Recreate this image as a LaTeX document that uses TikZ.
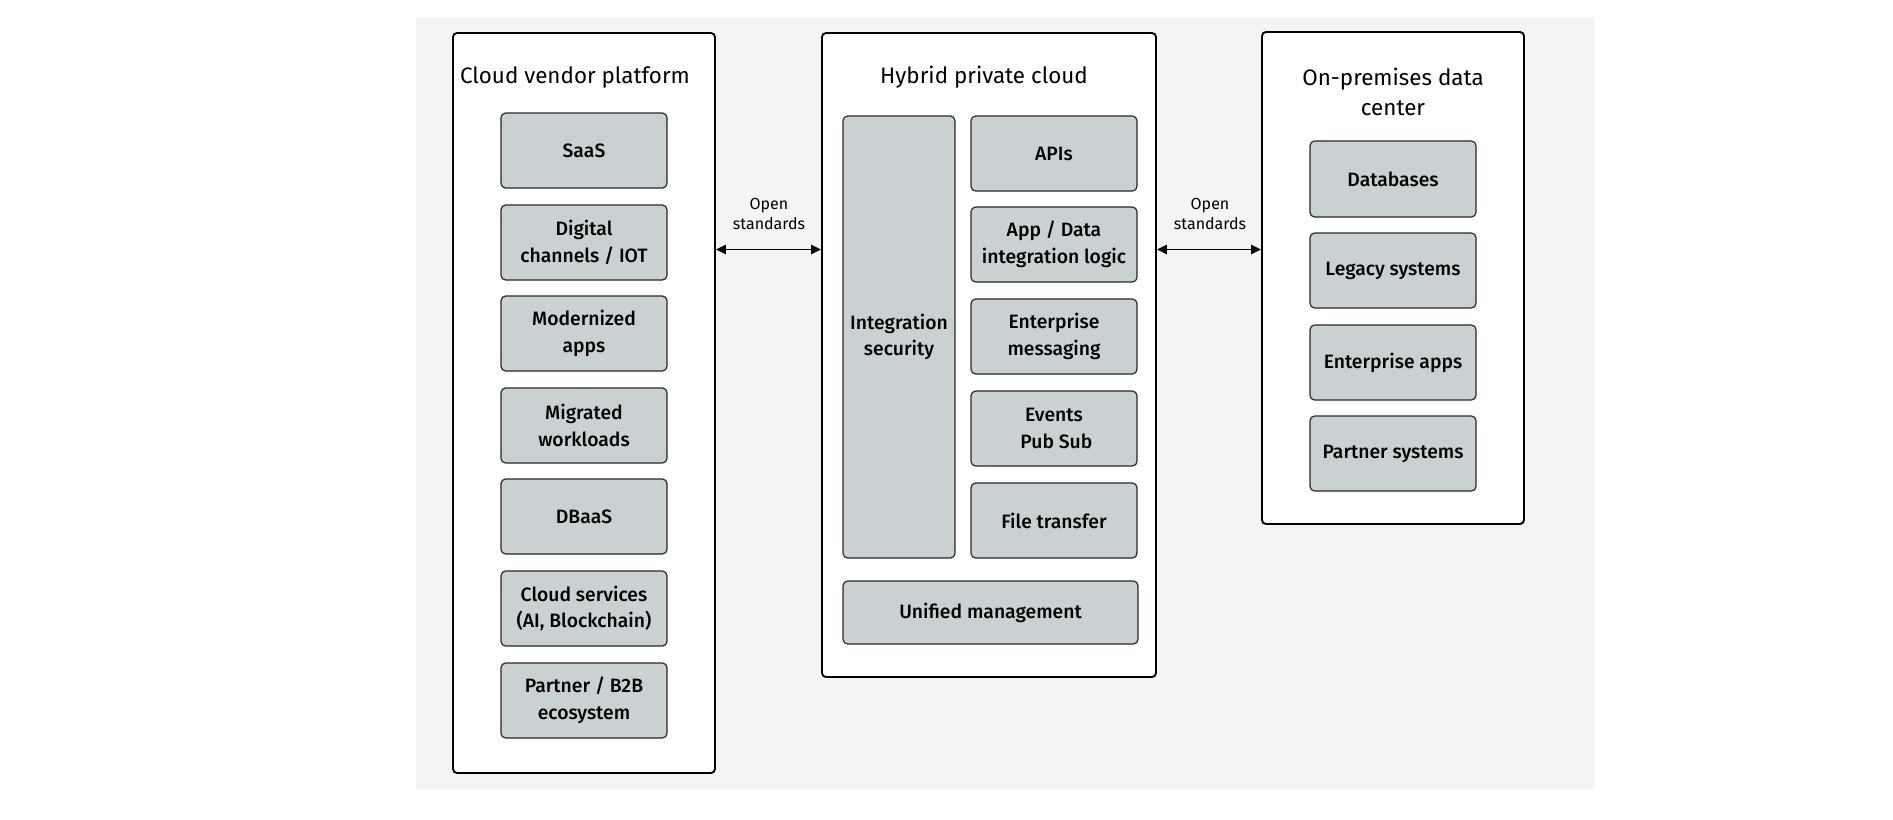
\documentclass[tikz,border=0pt]{standalone}
\usepackage{fontspec}
\setmainfont{Fira Sans}
\newfontfamily\medfont{Fira Sans Medium}
\usetikzlibrary{arrows.meta}
\definecolor{bgc}{RGB}{244,244,244}
\definecolor{boxc}{RGB}{201,209,210}
\definecolor{edgec}{RGB}{40,40,40}
\tikzset{
  outerbox/.style={draw=black, line width=1.4pt, fill=white, rounded corners=3pt, inner sep=0pt},
  ibox/.style={draw=edgec, line width=0.9pt, fill=boxc, rounded corners=3.5pt, inner sep=0pt,
    align=center, font=\medfont\fontsize{14.5}{20}\selectfont},
  ttl/.style={align=center, font=\fontsize{16.8}{22.5}\selectfont},
  lbl/.style={align=center, font=\fontsize{12}{15}\selectfont},
  conn/.style={line width=1.4pt, {Triangle[length=7.5pt,width=7pt]}-{Triangle[length=7.5pt,width=7pt]}}
}
\newcommand{\rbox}[7]{% style,name,x1,y1,x2,y2,text
  \node[#1, minimum width={(#5-#3)*0.75pt}, minimum height={(#6-#4)*0.75pt}] (#2) at ({(#3+#5)/2},{(#4+#6)/2}) {#7};}
\begin{document}
\begin{tikzpicture}[x=0.75pt,y=-0.75pt]
\useasboundingbox (0,0) rectangle (1893,819);
\fill[bgc] (416,17) rectangle (1594,789);
% outer boxes
\rbox{outerbox}{lbox}{453}{33}{715}{773}{}
\rbox{outerbox}{mbox}{822}{33}{1156}{677}{}
\rbox{outerbox}{rbox}{1262}{32}{1524}{524}{}
% titles
\node[ttl] (ltitle) at (575,77) {Cloud vendor platform};
\node[ttl] (mtitle) at (984,77) {Hybrid private cloud};
\node[ttl] (rtitle) at (1393,92) {On-premises data\\center};
% left column
\rbox{ibox}{saas}{501}{113}{667}{188}{SaaS}
\rbox{ibox}{digital}{501}{205}{667}{280}{Digital\\channels / IOT}
\rbox{ibox}{modern}{501}{296}{667}{371}{Modernized\\apps}
\rbox{ibox}{migrated}{501}{388}{667}{463}{Migrated\\workloads}
\rbox{ibox}{dbaas}{501}{479}{667}{554}{DBaaS}
\rbox{ibox}{cloudsvc}{501}{571}{667}{646}{Cloud services\\(AI, Blockchain)}
\rbox{ibox}{partner}{501}{663}{667}{738}{Partner / B2B\\ecosystem}
% middle
\rbox{ibox}{intsec}{843}{116}{955}{558}{Integration\\security}
\rbox{ibox}{apis}{971}{116}{1137}{191}{APIs}
\rbox{ibox}{appdata}{971}{207}{1137}{282}{App / Data\\integration logic}
\rbox{ibox}{entmsg}{971}{299}{1137}{374}{Enterprise\\messaging}
\rbox{ibox}{events}{971}{391}{1137}{466}{Events\\\ Pub Sub}
\rbox{ibox}{filetr}{971}{483}{1137}{558}{File transfer}
\rbox{ibox}{unified}{843}{581}{1138}{644}{Unified management}
% right
\rbox{ibox}{db}{1310}{141}{1476}{217}{Databases}
\rbox{ibox}{legacy}{1310}{233}{1476}{308}{Legacy systems}
\rbox{ibox}{entapps}{1310}{325}{1476}{400}{Enterprise apps}
\rbox{ibox}{partsys}{1310}{416}{1476}{491}{Partner systems}
% connectors
\draw[conn] (lbox.east |- 0,249.5) -- (mbox.west |- 0,249.5);
\draw[conn] (mbox.east |- 0,249.5) -- (rbox.west |- 0,249.5);
\node[lbl] (lab1) at (769,214) {Open\\standards};
\node[lbl] (lab2) at (1210,214) {Open\\standards};
\end{tikzpicture}
\end{document}
